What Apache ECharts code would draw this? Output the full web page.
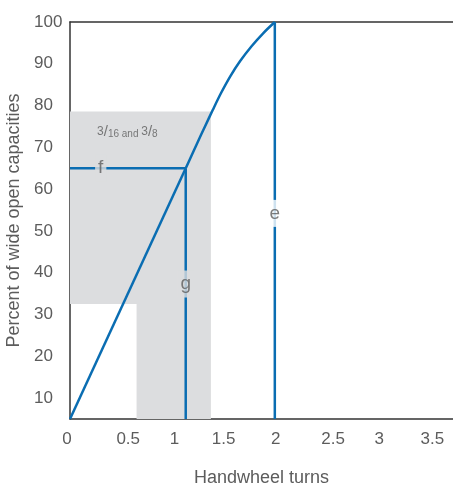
<!DOCTYPE html>
<html><head><meta charset="utf-8">
<script src="https://cdn.jsdelivr.net/npm/echarts@6/dist/echarts.min.js"></script>
<style>html,body{margin:0;padding:0;background:#fff}#c{width:453px;height:488px}</style>
</head><body><div id="c"></div>
<script>
// Data
const xTicks = [0, 0.5, 1, 1.5, 2, 2.5, 3, 3.5];
const yTicks = [10, 20, 30, 40, 50, 60, 70, 80, 90, 100];
const straightX = [0, 1.13];
const straightY = [5, 65];
const curveX = [1.13, 1.186, 1.242, 1.318, 1.395, 1.475, 1.565, 1.66, 1.773, 1.886, 2.0];
const curveY = [65, 68, 71, 75, 79, 83, 87, 90.6, 94.2, 97.3, 100];
const lineE = [[2, 5], [2, 100]];
const lineG = [[1.13, 5], [1.13, 65]];
const lineF = [[0, 65], [1.13, 65]];
const shadeUpper = [[0, 32.5], [1.376, 78.6]];
const shadeLower = [[0.65, 5], [1.376, 32.5]];
const labelsOnWhite = [{name: 'e', value: [2, 54.2]}];
const labelsOnGray = [{name: 'f', value: [0.30, 65]}, {name: 'g', value: [1.13, 37.3]}];
const boxLabelPos = [0.56, 73.6];

const BLUE = '#0a6db2', GRAY = '#dcdddf', TXT = '#5c5c5c', AX = '#333';
const FONT = 'Liberation Sans';
// horizontal nudges (px) of x tick labels, as placed in the reference artwork (same order as xTicks)
const xLabelShift = [-3, 7, 2, 0, 1, 7, 2, 4];
const rich = {};
xLabelShift.forEach((s, i) => {
  rich['x' + i] = {fontFamily: FONT, fontSize: 17, color: TXT,
    padding: s >= 0 ? [0, 0, 0, 2 * s] : [0, -2 * s, 0, 0]};
});
const chart = echarts.init(document.getElementById('c'));
const lineStyle = {color: BLUE, width: 2.5};
const mkLine = (pts, z) => ({type: 'line', data: pts, symbol: 'none', lineStyle, z: z || 3, silent: true});
const letterSeries = (data, bg) => ({type: 'scatter', symbolSize: 0, z: 8, silent: true, data,
  label: {show: true, position: 'inside', formatter: p => p.name, fontFamily: FONT, fontSize: 19, color: TXT,
    padding: [4, 3], backgroundColor: bg}});
chart.setOption({
  animation: false,
  grid: {left: 70, right: 0, top: 22, bottom: 69, containLabel: false, outerBoundsMode: 'none'},
  xAxis: [{
    type: 'value', min: 0, max: 3.74, interval: 0.5,
    name: 'Handwheel turns', nameLocation: 'middle', nameGap: 50,
    nameTextStyle: {fontFamily: FONT, fontSize: 18, color: TXT},
    axisLine: {show: true, lineStyle: {color: AX, width: 1.5}},
    axisTick: {show: false}, splitLine: {show: false},
    axisLabel: {fontFamily: FONT, fontSize: 17, color: TXT, margin: 12, showMaxLabel: false, rich,
      formatter: v => {
        const i = xTicks.findIndex(t => Math.abs(t - v) < 1e-6);
        return i < 0 ? '' : '{x' + i + '|' + xTicks[i] + '}';
      }}
  }, {
    type: 'value', position: 'top', min: 0, max: 3.74,
    axisLine: {show: true, onZero: false, lineStyle: {color: AX, width: 1.5}},
    axisTick: {show: false}, axisLabel: {show: false}, splitLine: {show: false}
  }],
  yAxis: {
    type: 'value', min: 5, max: 100, interval: 5,
    name: 'Percent of wide open capacities', nameLocation: 'middle', nameGap: 25,
    nameTextStyle: {fontFamily: FONT, fontSize: 18, color: TXT},
    axisLine: {show: true, lineStyle: {color: AX, width: 1.5}},
    axisTick: {show: false}, splitLine: {show: false},
    axisLabel: {fontFamily: FONT, fontSize: 17, color: TXT, margin: 36, align: 'left',
      formatter: v => yTicks.includes(v) ? String(v) : ''}
  },
  series: [
    {type: 'line', data: [], markArea: {silent: true, itemStyle: {color: GRAY},
      data: [[{coord: shadeUpper[0]}, {coord: shadeUpper[1]}], [{coord: shadeLower[0]}, {coord: shadeLower[1]}]]}, z: 1},
    mkLine(lineE), mkLine(lineG), mkLine(lineF),
    mkLine(straightX.map((x, i) => [x, straightY[i]]), 4),
    Object.assign(mkLine(curveX.map((x, i) => [x, curveY[i]]), 4), {smooth: 0.3}),
    letterSeries(labelsOnWhite, '#ffffff'),
    letterSeries(labelsOnGray, GRAY),
    {type: 'scatter', symbolSize: 0, z: 6, silent: true, data: [boxLabelPos],
      label: {show: true, position: 'inside', color: TXT, fontFamily: FONT,
        formatter: '{a|3}{s|/}{b|16}{c| and }{a|3}{s|/}{b|8}',
        rich: {
          a: {fontSize: 12, color: TXT, fontFamily: FONT, verticalAlign: 'top', lineHeight: 14},
          s: {fontSize: 15, color: TXT, fontFamily: FONT, lineHeight: 14},
          b: {fontSize: 10, color: TXT, fontFamily: FONT, verticalAlign: 'bottom', lineHeight: 14},
          c: {fontSize: 10, color: TXT, fontFamily: FONT, verticalAlign: 'bottom', lineHeight: 14}
        }}
    }
  ]
});
</script></body></html>
